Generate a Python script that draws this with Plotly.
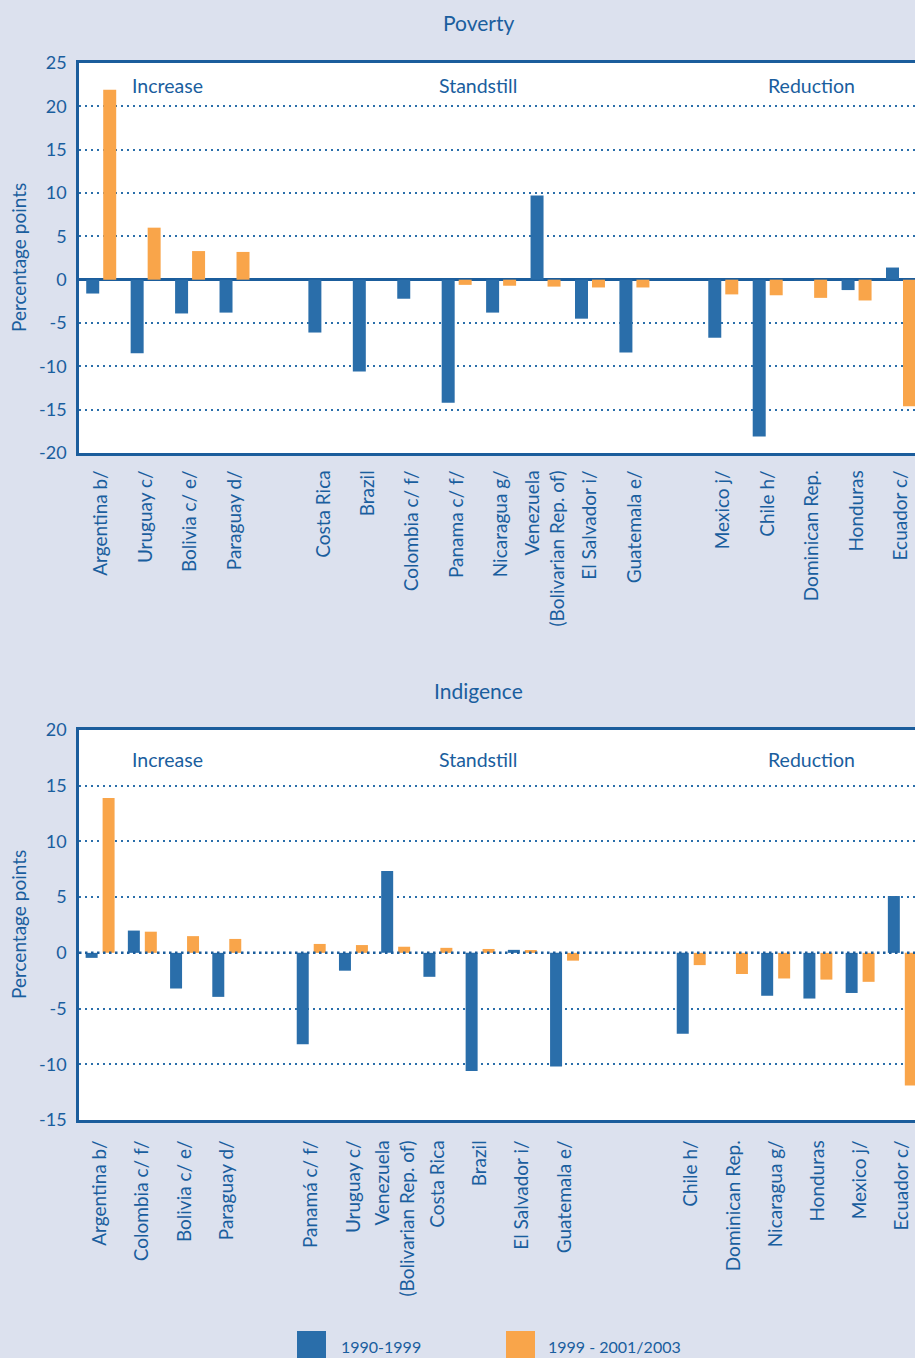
import plotly.graph_objects as go
from plotly.subplots import make_subplots

# ---------------- data ----------------
pov_countries = ["Argentina b/", "Uruguay c/", "Bolivia c/ e/", "Paraguay d/",
                 "Costa Rica", "Brazil", "Colombia c/ f/", "Panama c/ f/", "Nicaragua g/",
                 "Venezuela<br>(Bolivarian Rep. of)", "El Salvador i/", "Guatemala e/",
                 "Mexico j/", "Chile h/", "Dominican Rep.", "Honduras", "Ecuador c/"]
pov_1990_1999 = [-1.6, -8.5, -3.9, -3.8,
                 -6.1, -10.6, -2.2, -14.2, -3.8, 9.7, -4.5, -8.4,
                 -6.7, -18.1, 0.0, -1.2, 1.4]
pov_1999_2003 = [21.9, 6.0, 3.3, 3.2,
                 0.0, 0.0, 0.0, -0.6, -0.7, -0.8, -0.9, -0.9,
                 -1.7, -1.8, -2.1, -2.4, -14.6]
# category order with blank separator slots between the groups
pov_order = ["Argentina b/", "Uruguay c/", "Bolivia c/ e/", "Paraguay d/", " ",
             "Costa Rica", "Brazil", "Colombia c/ f/", "Panama c/ f/", "Nicaragua g/",
             "Venezuela<br>(Bolivarian Rep. of)", "El Salvador i/", "Guatemala e/", "  ",
             "Mexico j/", "Chile h/", "Dominican Rep.", "Honduras", "Ecuador c/"]

ind_countries = ["Argentina b/", "Colombia c/ f/", "Bolivia c/ e/", "Paraguay d/",
                 "Panamá c/ f/", "Uruguay c/", "Venezuela<br>(Bolivarian Rep. of)", "Costa Rica",
                 "Brazil", "El Salvador i/", "Guatemala e/",
                 "Chile h/", "Dominican Rep.", "Nicaragua g/", "Honduras", "Mexico j/", "Ecuador c/"]
ind_1990_1999 = [-0.45, 2.0, -3.2, -3.95,
                 -8.2, -1.6, 7.35, -2.15, -10.6, 0.27, -10.2,
                 -7.25, 0.0, -3.85, -4.1, -3.6, 5.1]
ind_1999_2003 = [13.9, 1.9, 1.5, 1.25,
                 0.8, 0.7, 0.55, 0.45, 0.35, 0.25, -0.7,
                 -1.1, -1.9, -2.3, -2.4, -2.6, -11.9]
ind_order = ["Argentina b/", "Colombia c/ f/", "Bolivia c/ e/", "Paraguay d/", " ",
             "Panamá c/ f/", "Uruguay c/", "Venezuela<br>(Bolivarian Rep. of)", "Costa Rica",
             "Brazil", "El Salvador i/", "Guatemala e/", "  ", "   ",
             "Chile h/", "Dominican Rep.", "Nicaragua g/", "Honduras", "Mexico j/", "Ecuador c/"]

series_names = ["1990-1999", "1999 - 2001/2003"]
pov_ticks = [-20, -15, -10, -5, 0, 5, 10, 15, 20, 25]
pov_ticktext = ["-20", "-15", "-10", "-5", "0", "5", "10", "15", "20", "25"]
ind_ticks = [-15, -10, -5, 0, 5, 10, 15, 20]
ind_ticktext = ["-15", "-10", "-5", "0", "5", "10", "15", "20"]
group_labels = ["Increase", "Standstill", "Reduction"]
y_title = "Percentage points"

# ---------------- style ----------------
BLUE = "#2a6eaa"
ORANGE = "#f9a54a"
TXT = "#1a5e9e"
LINE = "#1b5d9c"
BG = "#dce1ee"
FONT = "Lato"

W, H = 915, 1358
fig = make_subplots(rows=2, cols=1)


def px_x(p):
    return p / W


def px_y(p):
    return 1 - p / H


# bar geometry (per subplot, data units of one category slot)
pov_w, pov_off = 0.2925, (-0.3375, 0.045)
ind_w, ind_off = 0.284, (-0.343, 0.059)

for i, (vals, col) in enumerate([(pov_1990_1999, BLUE), (pov_1999_2003, ORANGE)]):
    fig.add_trace(go.Bar(x=pov_countries, y=vals, name=series_names[i], marker_color=col,
                         marker_line_width=0, width=pov_w, offset=pov_off[i],
                         showlegend=False), row=1, col=1)
for i, (vals, col) in enumerate([(ind_1990_1999, BLUE), (ind_1999_2003, ORANGE)]):
    fig.add_trace(go.Bar(x=ind_countries, y=vals, name=series_names[i], marker_color=col,
                         marker_line_width=0, width=ind_w, offset=ind_off[i],
                         showlegend=False), row=2, col=1)

xdom = [px_x(79), 1.0]
XFONT = dict(size=19, color=TXT)
YFONT = dict(size=18, color=TXT)
common_x = dict(type="category", categoryorder="array", tickangle=-90, showline=True,
                mirror=True, linecolor=LINE, linewidth=2.5, showgrid=False, ticks="",
                tickfont=XFONT, automargin=False, fixedrange=True)
common_y = dict(showline=True, linecolor=LINE, linewidth=2.5, showgrid=True, gridcolor=BLUE,
                gridwidth=1.5, griddash="2px,4px", ticks="", tickfont=YFONT,
                ticklabelstandoff=6, automargin=False, fixedrange=True)
fig.update_layout(
    template=None,
    width=W, height=H, margin=dict(l=0, r=0, t=0, b=0, autoexpand=False),
    paper_bgcolor=BG, plot_bgcolor="white", barmode="overlay", showlegend=False,
    font=dict(family=FONT, color=TXT, size=16),
    xaxis=dict(domain=xdom, anchor="y", categoryarray=pov_order, range=[-0.5, 18.315],
               ticklabelstandoff=7, **common_x),
    yaxis=dict(domain=[px_y(453), px_y(63)], anchor="x", range=[-20, 25],
               tickvals=pov_ticks, ticktext=pov_ticktext, zeroline=True,
               zerolinecolor=LINE, zerolinewidth=2.5, **common_y),
    xaxis2=dict(domain=xdom, anchor="y2", categoryarray=ind_order, range=[-0.5, 19.30],
                ticklabelstandoff=10, **common_x),
    yaxis2=dict(domain=[px_y(1120), px_y(730)], anchor="x2", range=[-15, 20],
                tickvals=ind_ticks, ticktext=ind_ticktext, zeroline=False, **common_y),
)

# bolder dotted zero line for indigence
fig.add_shape(type="line", xref="x2 domain", yref="y2", x0=0, x1=1, y0=0, y1=0,
              line=dict(color=LINE, width=2.5, dash="2.5px,3.5px"), layer="above")

# y-axis titles
for ypx in (258, 925):
    fig.add_annotation(text=y_title, xref="paper", yref="paper", x=px_x(18), y=px_y(ypx),
                       textangle=-90, showarrow=False, font=dict(size=19, color=TXT),
                       xanchor="center", yanchor="middle")

# titles
for txt, ypx in [("Poverty", 22), ("Indigence", 690)]:
    fig.add_annotation(text=txt, xref="paper", yref="paper", x=px_x(478), y=px_y(ypx),
                       showarrow=False, font=dict(size=21, color=TXT), xanchor="center",
                       yanchor="middle")

# group labels
for ypx in (85, 759):
    for lab, xpx in zip(group_labels, (167, 478, 811)):
        fig.add_annotation(text=lab, xref="paper", yref="paper", x=px_x(xpx), y=px_y(ypx),
                           showarrow=False, font=dict(size=19.5, color=TXT),
                           xanchor="center", yanchor="middle")

# legend (drawn manually with big swatches)
for name, col, x0, tx in [(series_names[0], BLUE, 297, 339), (series_names[1], ORANGE, 506, 546)]:
    fig.add_shape(type="rect", xref="paper", yref="paper", x0=px_x(x0), x1=px_x(x0 + 29),
                  y0=px_y(1362), y1=px_y(1331), fillcolor=col, line_width=0)
    fig.add_annotation(text=name, xref="paper", yref="paper", x=px_x(tx), y=px_y(1346),
                       showarrow=False, font=dict(size=16, color=TXT), xanchor="left",
                       yanchor="middle")

fig.write_html("out.html", config={"displayModeBar": False},
               post_script="document.body.style.margin='0px';"
                           "document.body.style.overflow='hidden';")
